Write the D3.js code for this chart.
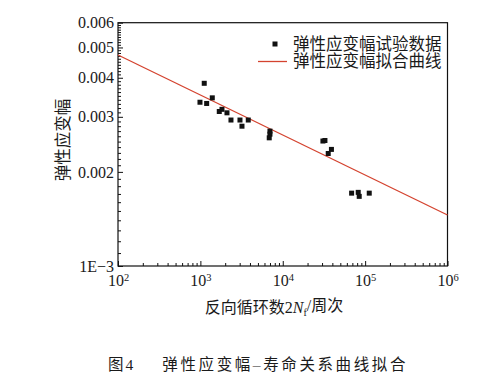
<!DOCTYPE html>
<html><head><meta charset="utf-8">
<script src="https://cdn.jsdelivr.net/npm/d3@7"></script>
<style>
body{margin:0;background:#fff;}
text{font-family:"Liberation Serif","Noto Sans CJK SC",serif;fill:#1a1a1a;}
</style></head>
<body>
<svg id="c" width="500" height="377"></svg>
<script>
// ---- data ----
const cycles = [989, 1114, 1192, 1395, 1696, 1829, 2103, 2352, 3025, 3199, 3814,
  6993, 6993, 6855, 30740, 32520, 38990, 35650, 68550, 82450, 84770, 112200];
const strain = [0.00334, 0.00384, 0.00331, 0.00345, 0.00312, 0.00317, 0.00309, 0.00293, 0.00293, 0.00280, 0.00293,
  0.00270, 0.00264, 0.00257, 0.00251, 0.00252, 0.00236, 0.00229, 0.00171, 0.00172, 0.00167, 0.00171];
const fitCycles = [100, 1000000];
const fitStrain = [0.00473, 0.001456];
const xTickExps = [2, 3, 4, 5, 6];
const yTickVals = [0.001, 0.002, 0.003, 0.004, 0.005, 0.006];
const yTickLabels = ["1E\u22123", "0.002", "0.003", "0.004", "0.005", "0.006"];
const legendLabels = ["弹性应变幅试验数据", "弹性应变幅拟合曲线"];
const xTitle = ["反向循环数2", "N", "f", "/周次"];
const yTitle = "弹性应变幅";
const captionNum = "图4";
const captionText = "弹性应变幅–寿命关系曲线拟合";

const svg = d3.select("#c");
const L = 118, R = 447.5, T = 22.7, B = 266;
const x = d3.scaleLog().domain([1e2, 1e6]).range([L, R]);
const y = d3.scaleLog().domain([1e-3, 6e-3]).range([B, T]);

// frame
svg.append("rect").attr("x", L).attr("y", T).attr("width", R - L).attr("height", B - T)
  .attr("fill", "none").attr("stroke", "#111").attr("stroke-width", 1.2);

// x minor ticks
const xMinor = [];
for (let e = 2; e < 6; e++) for (let m = 2; m <= 9; m++) xMinor.push(m * Math.pow(10, e));
svg.append("g").attr("transform", `translate(0,${B})`)
  .call(d3.axisBottom(x).tickValues(xMinor).tickSize(-3).tickFormat(""))
  .call(g => { g.select(".domain").remove(); g.selectAll("line").attr("stroke", "#111"); });
// x major
const xAx = svg.append("g").attr("transform", `translate(0,${B})`)
  .call(d3.axisBottom(x).tickValues(xTickExps.map(e => Math.pow(10, e))).tickSize(-5).tickPadding(9).tickFormat(""))
  .call(g => { g.select(".domain").remove(); g.selectAll("line").attr("stroke", "#111"); });
xAx.selectAll(".tick text").each(function(d, i) {
  const t = d3.select(this).attr("font-size", 16).attr("dy", "0.71em");
  t.append("tspan").text("10");
  t.append("tspan").attr("font-size", 10.5).attr("dy", "-0.5em").text(xTickExps[i]);
});

// y minor ticks every 0.0001
const yMinor = [];
for (let k = 11; k < 60; k++) if (k % 10 !== 0) yMinor.push(k / 10000);
svg.append("g").attr("transform", `translate(${L},0)`)
  .call(d3.axisLeft(y).tickValues(yMinor).tickSize(-3).tickFormat(""))
  .call(g => { g.select(".domain").remove(); g.selectAll("line").attr("stroke", "#111"); });
svg.append("g").attr("transform", `translate(${L},0)`)
  .call(d3.axisLeft(y).tickValues(yTickVals).tickSize(-5).tickPadding(4)
    .tickFormat((d, i) => yTickLabels[i]))
  .call(g => { g.select(".domain").remove(); g.selectAll("line").attr("stroke", "#111");
    g.selectAll("text").attr("font-size", 16).attr("fill", "#1a1a1a")
      .style("font-family", "'Liberation Serif',serif"); });

// fit line
const line = d3.line().x(d => x(d[0])).y(d => y(d[1]));
svg.append("path").datum(fitCycles.map((c, i) => [c, fitStrain[i]]))
  .attr("d", line).attr("fill", "none").attr("stroke", "#d4432f").attr("stroke-width", 1.3);

// points
const ms = 5;
svg.append("g").selectAll("rect").data(cycles).join("rect")
  .attr("x", (d, i) => x(d) - ms / 2).attr("y", (d, i) => y(strain[i]) - ms / 2)
  .attr("width", ms).attr("height", ms).attr("fill", "#111");

// legend
const lg = svg.append("g");
lg.append("rect").attr("x", 272.5).attr("y", 41.5).attr("width", 5).attr("height", 5).attr("fill", "#111");
lg.append("line").attr("x1", 258).attr("x2", 287).attr("y1", 61.5).attr("y2", 61.5)
  .attr("stroke", "#d4432f").attr("stroke-width", 1.3);
legendLabels.forEach((s, i) => {
  lg.append("text").attr("x", 293).attr("y", 44 + i * 17.5).attr("dy", "0.35em")
    .attr("font-size", 16.5).text(s);
});

// x title
const xt = svg.append("text").attr("x", 274).attr("y", 307).attr("dy", "0.35em")
  .attr("text-anchor", "middle").attr("font-size", 16);
xt.append("tspan").text(xTitle[0]);
xt.append("tspan").attr("font-style", "italic").text(xTitle[1]);
xt.append("tspan").attr("font-size", 10).attr("dy", "0.3em").text(xTitle[2]);
xt.append("tspan").attr("dy", "-0.3em").text(xTitle[3]);

// y title
svg.append("text").attr("transform", "translate(63,140) rotate(-90)").attr("dy", "0.35em")
  .attr("text-anchor", "middle").attr("font-size", 16.5).attr("fill", "#333").text(yTitle);

// caption
svg.append("text").attr("x", 108).attr("y", 365).attr("dy", "0.35em")
  .attr("font-size", 15.5).attr("fill", "#333").attr("letter-spacing", 2).text(captionNum);
svg.append("text").attr("x", 408).attr("y", 365).attr("dy", "0.35em")
  .attr("text-anchor", "end").attr("font-size", 15.5).attr("fill", "#333")
  .attr("letter-spacing", 2.6).text(captionText);
</script>
</body></html>
